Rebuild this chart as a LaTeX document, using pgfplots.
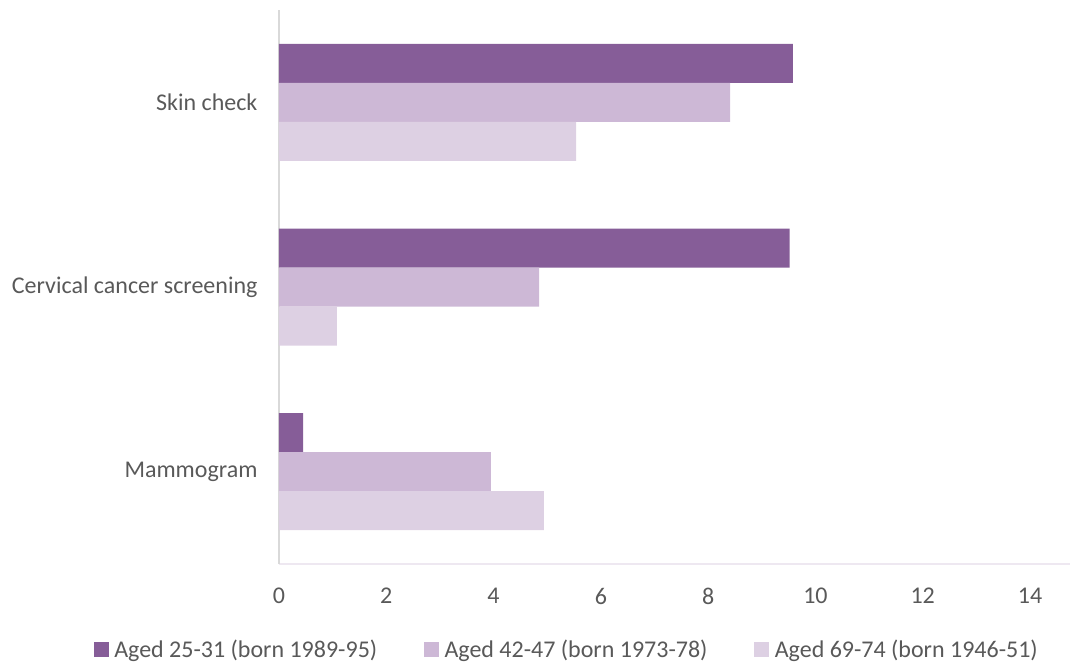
\documentclass[border=0pt]{standalone}
\usepackage{pgfplots}
\pgfplotsset{compat=1.18}
\usepackage{fontspec}
\setmainfont{Carlito}
\definecolor{c1}{HTML}{865D98}
\definecolor{c2}{HTML}{CDB8D6}
\definecolor{c3}{HTML}{DDD0E3}
\definecolor{txt}{HTML}{595959}
\definecolor{linel}{HTML}{D9D9D9}
\definecolor{lineb}{HTML}{EEE8F1}
\begin{document}
\begin{tikzpicture}[x=0.75pt,y=0.75pt]
\useasboundingbox (-279,-100) rectangle (791,564);
\draw[lineb, line width=0.9pt] (0,0) -- (791,0);
\begin{axis}[
  at={(0,0)}, anchor=south west,
  scale only axis, width=563.25pt, height=415.5pt,
  xmin=0, xmax=14, ymin=-0.5, ymax=2.5,
  xtick={0,2,...,14}, ytick={0,1,2},
  yticklabels={Mammogram,Cervical cancer screening,Skin check},
  xbar, bar width=29.25pt,
  axis x line=bottom, axis y line=left,
  x axis line style={draw=none,-},
  y axis line style={draw=linel,-,line width=0.9pt},
  major tick length=0pt,
  /pgf/number format/assume math mode=true,
  ticklabel style={font=\fontsize{18}{21}\selectfont, text=txt},
  yticklabel style={inner sep=0pt, xshift=-16pt},
  xticklabel style={inner sep=0pt, yshift=-18pt},
  legend style={at={(0.3835,-0.155)}, anchor=center, draw=none,
    font=\fontsize{18}{21}\selectfont, text=txt,
    /tikz/every even column/.append style={column sep=33pt}},
  legend columns=3,
  legend cell align=left,
]
\addplot[fill=c1, draw=none, bar shift=29.25pt,
  legend image code/.code={\fill[c1] (0pt,-5.6pt) rectangle (11.25pt,5.6pt);\path (13.5pt,0pt);}]
  coordinates {(0.45,0) (9.52,1) (9.58,2)};
\addplot[fill=c2, draw=none, bar shift=0pt,
  legend image code/.code={\fill[c2] (0pt,-5.6pt) rectangle (11.25pt,5.6pt);\path (13.5pt,0pt);}]
  coordinates {(3.95,0) (4.85,1) (8.41,2)};
\addplot[fill=c3, draw=none, bar shift=-29.25pt,
  legend image code/.code={\fill[c3] (0pt,-5.6pt) rectangle (11.25pt,5.6pt);\path (13.5pt,0pt);}]
  coordinates {(4.94,0) (1.08,1) (5.54,2)};
\legend{Aged 25-31 (born 1989-95),Aged 42-47 (born 1973-78),Aged 69-74 (born 1946-51)}
\end{axis}
\end{tikzpicture}
\end{document}
